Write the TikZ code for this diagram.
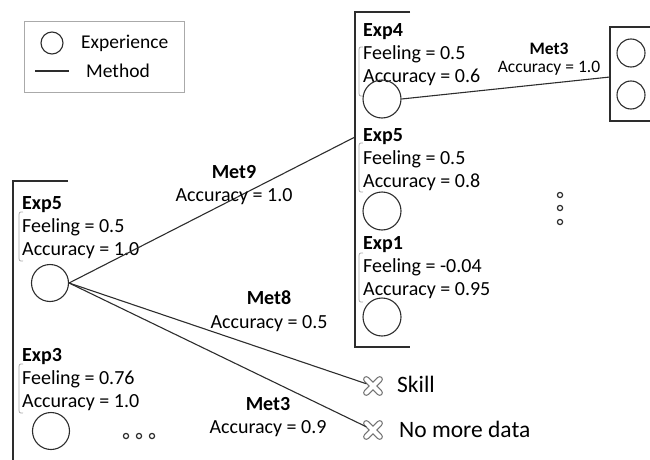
\documentclass[tikz,border=0pt]{standalone}
\usepackage{fontspec}
\setmainfont{Carlito}
\usetikzlibrary{positioning}
\definecolor{linec}{RGB}{45,45,45}
\definecolor{bracec}{RGB}{170,170,170}

\begin{document}
\begin{tikzpicture}[x=1pt, y=-1pt,
    exp/.style={circle, draw=linec, line width=1.1pt, minimum size=#1, inner sep=0pt},
    exp/.default=37pt,
    conn/.style={draw=linec, line width=1.1pt},
    frame/.style={draw=linec, line width=1.4pt},
    info/.style={anchor=base west, align=left, inner sep=0pt,
        font=\fontsize{20}{23}\selectfont},
    metl/.style={align=center, inner sep=0pt, font=\fontsize{20}{23.5}\selectfont},
    brk/.style={draw=bracec, line width=0.8pt},
    stopmark/.style={rectangle, minimum size=13pt, inner sep=0pt},
    endl/.style={anchor=west, inner sep=0pt, font=\fontsize{23.5}{26}\selectfont}]
    \useasboundingbox (0,0) rectangle (650,460);

    % Legend
    \draw[draw=bracec, line width=1pt] (24,22) rectangle (184,92);
    \node[exp=22pt] (legexp) at (52,43) {};
    \node[anchor=west, inner sep=0pt, font=\fontsize{19.5}{23}\selectfont] (legexptext) at (81,43) {Experience};
    \coordinate (legl) at (35,71);
    \coordinate (legr) at (69,71);
    \draw[conn] (legl) -- (legr);
    \node[anchor=west, inner sep=0pt, font=\fontsize{19.5}{23}\selectfont] (legmettext) at (86,71) {Method};

    % Frames
    \draw[frame] (68,181) -- (13,181) -- (13,460);
    \draw[frame] (410,12) -- (355,12) -- (355,347) -- (410,347);
    \draw[frame] (650,27) -- (610,27) -- (610,121) -- (650,121);

    % Experience labels (base = last line)
    \node[info] (labfive) at (22,255) {\textbf{Exp5}\\Feeling = 0.5\\Accuracy = 1.0};
    \node[info] (labthree) at (22,407) {\textbf{Exp3}\\Feeling = 0.76\\Accuracy = 1.0};
    \node[info] (labfour) at (363,82) {\textbf{Exp4}\\Feeling = 0.5\\Accuracy = 0.6};
    \node[info] (labfiveb) at (363,187) {\textbf{Exp5}\\Feeling = 0.5\\Accuracy = 0.8};
    \node[info] (labone) at (363,295) {\textbf{Exp1}\\Feeling = -0.04\\Accuracy = 0.95};

    % Braces
    \foreach \bx/\by in {19/212, 19/364, 359/47, 359/143, 359/253} {
        \draw[brk] (\bx+4,\by) .. controls (\bx,\by) .. (\bx,\by+5)
            -- (\bx,\by+44) .. controls (\bx,\by+49) .. (\bx+4,\by+49);
    }

    % Experiences
    \node[exp] (efive) at (50,283) {};
    \node[exp] (ethree) at (51,431) {};
    \node[exp=38pt] (efour) at (382,99) {};
    \node[exp=38pt] (efiveb) at (382,211) {};
    \node[exp=38pt] (eone) at (382,317) {};
    \node[exp=28pt] (rtop) at (631,53) {};
    \node[exp=28pt] (rbot) at (631,95) {};

    % More experiences
    \foreach \dx/\dy in {126/436, 139/436, 152/436, 560/195, 560/208, 560/222}
        \draw[linec, line width=1.2pt] (\dx,\dy) circle (2.6);

    % Stops
    \node[stopmark] (skill) at (373,386) {};
    \node[stopmark] (nodata) at (373,430) {};
    \foreach \s in {skill, nodata} {
        \draw[gray!90!black, line width=6.4pt, line cap=round] (\s.north west) -- (\s.south east)
            (\s.north east) -- (\s.south west);
        \draw[white, line width=4pt, line cap=round] (\s.north west) -- (\s.south east)
            (\s.north east) -- (\s.south west);
    }
    \node[endl] (skilltext) at (397,384) {Skill};
    \node[endl] (nodatatext) at (399,429) {No more data};

    % Methods
    \coordinate (midin) at (355,137);
    \coordinate (rightin) at (610,77);
    \draw[conn] (efive.east) -- (midin);
    \draw[conn] (efive.east) -- (skill);
    \draw[conn] (efive.east) -- (nodata);
    \draw[conn] (efour.east) -- (rightin);

    \node[metl] (metnine) at (234,185) {\textbf{Met9}\\Accuracy = 1.0};
    \node[metl] (meteight) at (269,311) {\textbf{Met8}\\Accuracy = 0.5};
    \node[metl] (metthree) at (268,417) {\textbf{Met3}\\Accuracy = 0.9};
    \node[metl, font=\fontsize{17.5}{18.5}\selectfont] (metthreeb) at (549,59) {\textbf{Met3}\\Accuracy = 1.0};
\end{tikzpicture}
\end{document}
